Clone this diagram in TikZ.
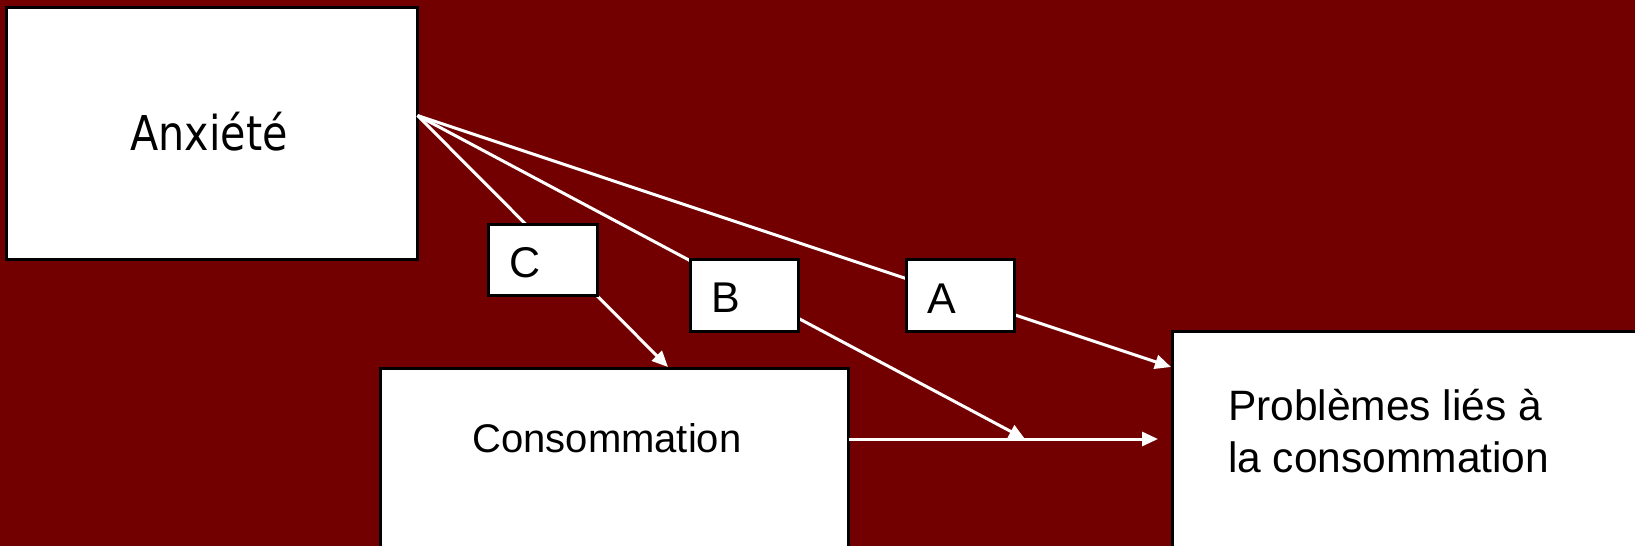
\documentclass[tikz,border=0pt]{standalone}
\usepackage{fontspec}
\setmainfont{Liberation Sans}
\newfontfamily\tahomalike[FakeStretch=0.86]{DejaVu Sans}
\usetikzlibrary{arrows.meta}
\definecolor{bgred}{RGB}{115,0,0}
\tikzset{
  box/.style={draw=black, fill=white, line width=1.75pt, inner sep=0pt, outer sep=0pt},
  conn/.style={draw=white, line width=1.5pt, -{Triangle[length=8pt,width=7pt]}},
  txt/.style={inner sep=0pt, outer sep=0pt, anchor=base, text=black},
  lettertxt/.style={txt, font=\fontsize{21.5}{26}\selectfont}
}
\begin{document}
\begin{tikzpicture}[x=0.5pt,y=-0.5pt]
\useasboundingbox (0,0) rectangle (1635,546);
\clip (0,0) rectangle (1635,546);
\fill[bgred] (0,0) rectangle (1635,546);

% big boxes
\node[box, minimum width=205.5pt, minimum height=126pt] (anx) at (212,133.5) {};
\node[box, minimum width=234pt, minimum height=125.75pt] (cons) at (614.5,494.25) {};
\node[box, minimum width=263.75pt, minimum height=144.25pt] (prob) at (1436.25,475.75) {};

% connector end points
\path (anx.east) ++(0,-18) coordinate (o);
\coordinate (ctip) at (668,367);
\coordinate (btip) at (1025,439);
\coordinate (atip) at (1171,367);
\coordinate (htip) at (1158,439);

% connectors
\draw[conn] (o) -- (ctip);
\draw[conn] (o) -- (btip);
\draw[conn] (o) -- (atip);
\draw[conn] (cons.east |- btip) -- (htip);

% label boxes
\node[box, minimum width=54.5pt, minimum height=35.5pt] (cbox) at (543,260) {};
\node[box, minimum width=54pt, minimum height=36pt] (bbox) at (744.5,295.5) {};
\node[box, minimum width=54pt, minimum height=36pt] (abox) at (960.5,295.5) {};

% texts
\node[txt, font=\tahomalike\fontsize{24}{28}\selectfont] (anxt) at (209,150) {Anxiété};
\node[txt, font=\fontsize{20}{24}\selectfont] (const) at (607,452.7) {Consommation};
\node[txt, anchor=base west, font=\fontsize{21.25}{26}\selectfont] (probt) at (1228,420)
  {\parbox[t]{200pt}{\raggedright Problèmes liés à\\la consommation}};
\node[lettertxt] (ct) at (525.5,277) {C};
\node[lettertxt] (bt) at (726,312) {B};
\node[lettertxt] (at) at (941.6,313) {A};
\end{tikzpicture}
\end{document}
